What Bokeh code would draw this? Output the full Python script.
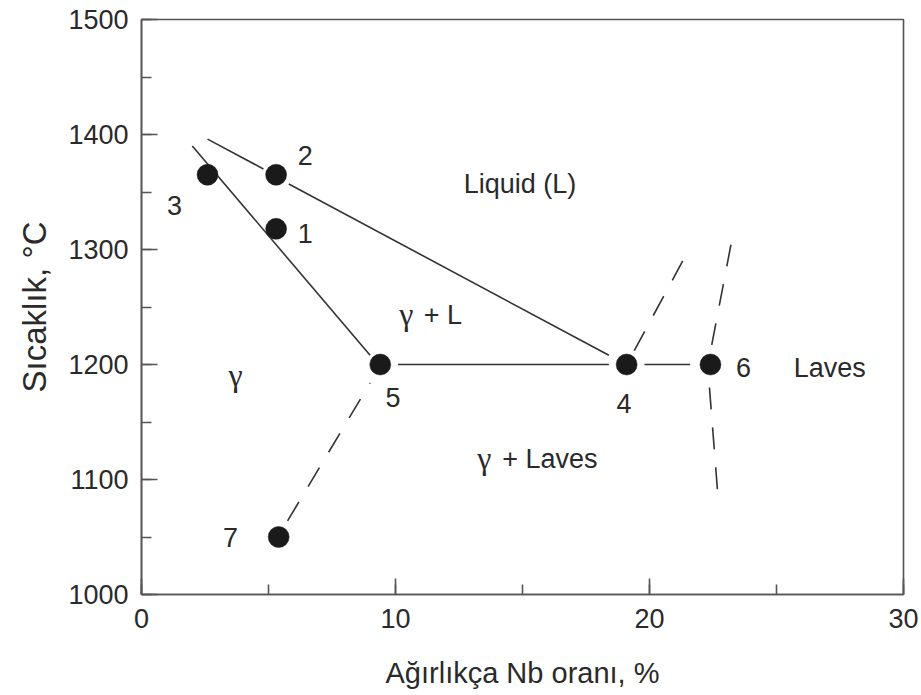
from bokeh.plotting import figure
from bokeh.models import SingleIntervalTicker
from bokeh.core.properties import value
from bokeh.embed import file_html
from bokeh.resources import INLINE

# --- data ---
pt_x = [5.3, 5.3, 2.6, 19.1, 9.4, 22.4, 5.4]
pt_y = [1318, 1365, 1365, 1200, 1200, 1200, 1050]
pt_lbl = ["1", "2", "3", "4", "5", "6", "7"]
lbl_x = [6.45, 6.45, 1.3, 19.0, 9.9, 23.7, 3.5]
lbl_y = [1314, 1382, 1338, 1166, 1171, 1197, 1050]

# liquidus (drawn in two pieces around point 2)
liq1_x = [2.6, 4.8]
liq1_y = [1396, 1370]
liq2_x = [5.8, 18.4]
liq2_y = [1357, 1208]
# solidus
sol_x = [2.0, 9.0]
sol_y = [1390, 1208]
# eutectic line pieces
eut1_x = [10.1, 18.4]
eut1_y = [1200, 1200]
eut2_x = [19.8, 21.6]
eut2_y = [1200, 1200]
# dashed boundaries
d75_x = [5.75, 9.0]
d75_y = [1064, 1184]
d4_x = [19.4, 21.6]
d4_y = [1212, 1302]
d6a_x = [22.45, 23.3]
d6a_y = [1217, 1315]
d6b_x = [22.36, 22.7]
d6b_y = [1180, 1084]

region_txt = ["Liquid (L)", "+ L", "+ Laves", "Laves"]
region_x = [14.9, 11.87, 16.08, 27.1]
region_y = [1357, 1243, 1118, 1197]
gamma_x = [10.43, 3.7, 13.5]
gamma_y = [1244, 1191, 1119]

SANS = "Liberation Sans"
SERIF = "Liberation Serif"
INK = "#2a2a2a"

p = figure(width=921, height=695, x_range=(0, 30), y_range=(1000, 1500),
           output_backend="svg", toolbar_location=None,
           min_border_left=141, min_border_right=18, min_border_top=19,
           min_border_bottom=101)
p.grid.visible = False
p.background_fill_color = "white"
p.border_fill_color = "white"
p.outline_line_color = "#555555"
p.outline_line_width = 1.6

p.xaxis.ticker = SingleIntervalTicker(interval=10, num_minor_ticks=2)
p.yaxis.ticker = SingleIntervalTicker(interval=100, num_minor_ticks=2)
for ax in (p.xaxis[0], p.yaxis[0]):
    ax.axis_line_color = "#555555"
    ax.axis_line_width = 1.6
    ax.major_tick_line_color = "#555555"
    ax.minor_tick_line_color = "#555555"
    ax.major_tick_line_width = 1.6
    ax.minor_tick_line_width = 1.6
    ax.major_tick_in = 16
    ax.major_tick_out = 0
    ax.minor_tick_in = 10
    ax.minor_tick_out = 0
    ax.major_label_text_font = SANS
    ax.major_label_text_font_size = "27px"
    ax.major_label_text_color = INK
    ax.axis_label_text_font = SANS
    ax.axis_label_text_font_style = "normal"
    ax.axis_label_text_color = INK

p.xaxis.axis_label = "Ağırlıkça Nb oranı, %"
p.yaxis.axis_label = "Sıcaklık, °C"
p.xaxis.axis_label_text_font_size = "29px"
p.yaxis.axis_label_text_font_size = "33px"
p.xaxis.major_label_standoff = 14
p.xaxis.axis_label_standoff = 26
p.yaxis.major_label_standoff = 13
p.yaxis.axis_label_standoff = 12

LC = "#333333"
for xs, ys in [(liq1_x, liq1_y), (liq2_x, liq2_y), (sol_x, sol_y),
               (eut1_x, eut1_y), (eut2_x, eut2_y)]:
    p.line(xs, ys, line_color=LC, line_width=1.6)
for xs, ys in [(d75_x, d75_y), (d4_x, d4_y), (d6a_x, d6a_y), (d6b_x, d6b_y)]:
    p.line(xs, ys, line_color=LC, line_width=1.6, line_dash="22 18")

p.scatter(pt_x, pt_y, size=21, fill_color="#1a1a1a", line_color="#1a1a1a",
          line_width=0.5)

p.text(lbl_x, lbl_y, text=pt_lbl, text_font=value(SANS), text_font_size="27px",
       text_color=INK, text_align="center", text_baseline="middle")
p.text(region_x, region_y, text=region_txt, text_font=value(SANS),
       text_font_size="27px", text_color=INK, text_align="center",
       text_baseline="middle")
p.text(gamma_x, gamma_y, text=["γ"] * len(gamma_x), text_font=value(SERIF),
       text_font_size="32px", text_color=INK, text_align="center",
       text_baseline="middle")

open("out.html", "w").write(file_html(p, INLINE))
